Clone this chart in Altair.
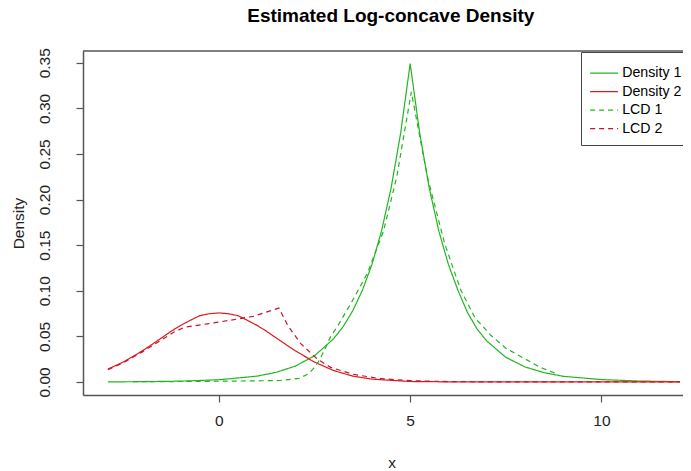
import altair as alt
import pandas as pd

series = ["Density 1", "Density 2", "LCD 1", "LCD 2"]
colors = ["#22b522", "#dd1a1a", "#22b522", "#c8142a"]
dashes = [[1, 0], [1, 0], [5, 4], [5, 4]]

d1_x = [-2.9, -2.0, -1.0, 0.0, 1.0, 1.5, 2.0, 2.5, 3.0, 3.25, 3.5, 3.75, 4.0, 4.25, 4.5, 4.75, 5.0,
        5.25, 5.5, 5.75, 6.0, 6.25, 6.5, 6.75, 7.0, 7.5, 8.0, 8.5, 9.0, 10.0, 11.0, 12.05]
d1_y = [0.0001, 0.0003, 0.0009, 0.0024, 0.0064, 0.0106, 0.0174, 0.0287, 0.0474, 0.0608, 0.0781,
        0.1003, 0.1288, 0.1653, 0.2123, 0.2726, 0.349, 0.2726, 0.2123, 0.1653, 0.1288, 0.1003,
        0.076, 0.058, 0.045, 0.027, 0.0165, 0.0102, 0.0062, 0.0026, 0.001, 0.0003]

d2_x = [-2.9, -2.5, -2.0, -1.75, -1.5, -1.25, -1.0, -0.75, -0.5, -0.25, 0.0, 0.25, 0.5, 0.75,
        1.0, 1.25, 1.5, 1.75, 2.0, 2.5, 3.0, 3.5, 4.0, 5.0, 6.0, 8.0, 10.0, 12.05]
d2_y = [0.0141, 0.0218, 0.0341, 0.0411, 0.0482, 0.0555, 0.0620, 0.0675, 0.0727, 0.0748, 0.0757,
        0.0748, 0.0727, 0.0675, 0.0620, 0.0555, 0.0482, 0.0411, 0.0341, 0.0218, 0.0125, 0.0064,
        0.0031, 0.0005, 0.0001, 0.0, 0.0, 0.0]

l1_x = [-2.25, -1.0, 0.0, 1.0, 1.6, 2.1, 2.35, 2.5, 2.6, 2.75, 2.92, 3.1, 3.45, 3.88, 4.3, 4.65,
        5.03, 5.45, 5.9, 6.32, 6.7, 7.1, 7.5, 7.97, 8.4, 8.8]
l1_y = [0.0003, 0.0005, 0.0008, 0.0012, 0.0016, 0.004, 0.009, 0.016, 0.022, 0.034, 0.0497, 0.061,
        0.086, 0.119, 0.165, 0.225, 0.318, 0.225, 0.152, 0.101, 0.070, 0.0515, 0.037, 0.026,
        0.016, 0.0095]

l2_x = [-2.9, -2.5, -2.0, -1.5, -1.2, -0.9, -0.3, 0.3, 0.9, 1.57, 1.8, 2.14, 2.58, 2.92, 3.5,
        4.2, 5.0, 6.0, 7.0, 8.5, 10.0, 12.05]
l2_y = [0.0135, 0.021, 0.033, 0.046, 0.054, 0.060, 0.0637, 0.0677, 0.072, 0.081, 0.062, 0.042,
        0.025, 0.016, 0.0085, 0.0037, 0.0014, 0.0004, 0.0001, 0.00002, 0.0, 0.0]

rows = []
for name, xs, ys in zip(series, [d1_x, d2_x, l1_x, l2_x], [d1_y, d2_y, l1_y, l2_y]):
    for a, b in zip(xs, ys):
        rows.append({"series": name, "x": a, "y": b})
df = pd.DataFrame(rows)

W, H = 600, 344
FONT = "Liberation Sans"
AX = "#555555"
FS = 15.5

legend = alt.Legend(
    title=" ", titleFontSize=5, titlePadding=0, titleFont=FONT,
    orient="none", legendX=498, legendY=1,
    symbolType="M-2.8,0H2.8", symbolSize=100, symbolStrokeWidth=1.2, symbolOffset=7,
    labelFont=FONT, labelFontSize=14.2, labelColor="black", labelLimit=300,
    strokeColor="#444444", fillColor="white", padding=9,
    rowPadding=3.5, cornerRadius=0, labelOffset=11,
)

lines = alt.Chart(df).mark_line(strokeWidth=1.2, clip=True).encode(
    x=alt.X("x:Q",
            scale=alt.Scale(domain=[-3.55, 12.13], nice=False, zero=False),
            axis=alt.Axis(values=[0, 5, 10], title="x", grid=False, tickSize=7,
                          labelPadding=11, titleX=308.5, titleY=72,
                          titleBaseline="alphabetic", titleAlign="center")),
    y=alt.Y("y:Q",
            scale=alt.Scale(domain=[-0.0143, 0.3629], nice=False, zero=False),
            axis=alt.Axis(values=[0, 0.05, 0.1, 0.15, 0.2, 0.25, 0.3, 0.35], format=".2f",
                          title="Density", grid=False, tickSize=7, labelAngle=270,
                          labelAlign="center", labelBaseline="bottom", labelPadding=24,
                          titleX=-60, titleAngle=270, titleBaseline="alphabetic")),
    color=alt.Color("series:N", scale=alt.Scale(domain=series, range=colors), legend=legend),
    strokeDash=alt.StrokeDash("series:N", scale=alt.Scale(domain=series, range=dashes),
                              legend=legend),
)

border = alt.Chart(pd.DataFrame({"edge": ["top"]})).mark_rule(
    color=AX, strokeWidth=1.5
).encode(x=alt.value(0), x2=alt.value(W), y=alt.value(0))

chart = alt.layer(lines, border).properties(
    width=W, height=H,
    title=alt.TitleParams("Estimated Log-concave Density", font=FONT, fontSize=19,
                          fontWeight="bold", color="black", baseline="alphabetic",
                          offset=6.5, dx=7.8),
    autosize=alt.AutoSizeParams(type="none"),
    padding={"left": 75, "top": 43, "right": 0, "bottom": 76},
).configure_view(stroke=None).configure_axis(
    domainColor=AX, domainWidth=1.5, tickColor=AX, tickWidth=1.2,
    labelFont=FONT, labelFontSize=FS, labelColor="#222222",
    titleFont=FONT, titleFontSize=FS, titleFontWeight="normal", titleColor="#222222",
)

chart.save("out.html", embed_options={"renderer": "svg", "actions": False})
